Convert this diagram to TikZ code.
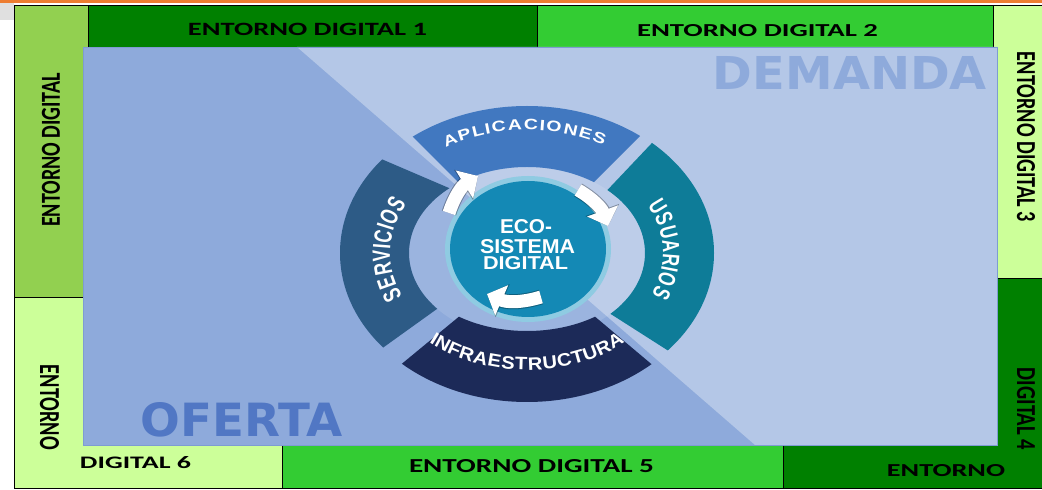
\documentclass[tikz,border=0pt]{standalone}
\usepackage{fontspec}
\usepackage{graphicx}
\usetikzlibrary{arrows.meta,calc}
\setmainfont{Liberation Sans}
\newfontfamily\cellfont{Carlito}
\newfontfamily\bigfont{DejaVu Sans}
\newfontfamily\ringfont{Liberation Sans}
\newcommand{\fb}[3]{\resizebox{#1pt}{#2pt}{#3}}
\definecolor{dgreen}{HTML}{008000}
\definecolor{bgreen}{HTML}{33CC33}
\definecolor{lgreen}{HTML}{92D050}
\definecolor{pgreen}{HTML}{CCFF99}
\definecolor{panelA}{HTML}{8EAADB}
\definecolor{panelB}{HTML}{B4C7E7}
\definecolor{panelEdge}{HTML}{7E9CD2}
\definecolor{ofertac}{HTML}{5177C4}
\definecolor{orangeline}{HTML}{ED7D31}
\definecolor{aplc}{HTML}{4178C0}
\definecolor{servc}{HTML}{2D5B86}
\definecolor{usuc}{HTML}{0E7C98}
\definecolor{infc}{HTML}{1C2A58}
\definecolor{circc}{HTML}{1489B5}
\definecolor{haloc}{HTML}{8FCBE2}
\begin{document}
\begin{tikzpicture}[x=1pt,y=1pt,
  cell/.style={draw=black,line width=0.8pt},
  lab/.style={inner sep=0pt,text=black},
  ringch/.style={inner sep=0pt,anchor=base,text=white},
  seg/.style={even odd rule},
  arr/.style={draw=white,line width=13pt,-{Triangle[length=16pt,width=32pt]}},
  arrshadow/.style={draw=black,opacity=0.3,line width=15pt,-{Triangle[length=17pt,width=35pt]}}]
\useasboundingbox (0,0) rectangle (1042,490);
\fill[white] (0,0) rectangle (1042,490);
\fill[orangeline] (0,487) rectangle (1042,490);
\fill[black!12] (0,470) rectangle (14,487);
% frame cells
\filldraw[cell,fill=lgreen] (14,193) rectangle (88,485);
\filldraw[cell,fill=dgreen] (88,443) rectangle (537,485);
\filldraw[cell,fill=bgreen] (537,443) rectangle (993,485);
\filldraw[cell,fill=pgreen] (993,212) rectangle (1046,485);
\filldraw[cell,fill=bgreen] (282,2) rectangle (783,45);
\filldraw[cell,fill=dgreen] (783,2) rectangle (1046,212);
\filldraw[cell,fill=pgreen] (14,2) rectangle (282,193);
% panel
\fill[panelA] (83,45) rectangle (997,443);
\fill[panelB] (297,443) -- (997,443) -- (997,45) -- (755,45) -- cycle;
\draw[panelEdge,line width=0.6pt] (83,45) rectangle (997,443);
% cell labels
\node[lab] (e1) at (307.5,461) {\fb{239}{12.3}{\cellfont\bfseries ENTORNO DIGITAL 1}};
\node[lab] (e2) at (757.5,459) {\fb{241}{12}{\cellfont\bfseries ENTORNO DIGITAL 2}};
\node[lab,rotate=90] (e0) at (51,340) {\fb{154}{18}{\cellfont\bfseries ENTORNO DIGITAL}};
\node[lab,rotate=-90] (e6a) at (49.5,82.5) {\fb{85}{19}{\cellfont\bfseries ENTORNO}};
\node[lab,rotate=-90] (e3) at (1026,353) {\fb{170}{18}{\cellfont\bfseries ENTORNO DIGITAL 3}};
\node[lab,rotate=-90] (e4) at (1026,81) {\fb{82}{18}{\cellfont\bfseries DIGITAL 4}};
\node[lab] (e6) at (135.5,27) {\fb{111}{12}{\cellfont\bfseries DIGITAL 6}};
\node[lab] (e5) at (531.5,23.5) {\fb{245}{13}{\cellfont\bfseries ENTORNO DIGITAL 5}};
\node[lab] (e4b) at (946,19) {\fb{118}{12}{\cellfont\bfseries ENTORNO}};
% big words
\node[inner sep=0pt,text=panelA] (dem) at (850,416.5) {\fb{274}{33}{\bigfont\bfseries DEMANDA}};
\node[inner sep=0pt,text=ofertac] (ofe) at (242,70) {\fb{202}{34}{\bigfont\bfseries OFERTA}};
% ring
\coordinate (rc) at (527,237);
\coordinate (cc) at (528,241);
\fill[white,opacity=0.12] (rc) ellipse[x radius=118pt,y radius=86pt];
\begin{scope}
\clip (526,240) -- (926,640) -- (126,640) -- cycle;
\fill[aplc,seg] (rc) ellipse[x radius=187pt,y radius=147pt] (rc) ellipse[x radius=118pt,y radius=86pt];
\end{scope}
\begin{scope}
\clip (535.5,224) -- (935,646) -- (935,-31) -- cycle;
\fill[usuc,seg] (rc) ellipse[x radius=187pt,y radius=148pt] (rc) ellipse[x radius=118pt,y radius=86pt];
\end{scope}
\begin{scope}
\clip (527.6,230) -- (1051,-210) -- (-5.5,-210) -- cycle;
\fill[infc,seg] (rc) ellipse[x radius=187pt,y radius=149pt] (rc) ellipse[x radius=118pt,y radius=78pt];
\end{scope}
\begin{scope}
\clip (547,260) -- (100,451.5) -- (100,-60.8) -- cycle;
\fill[servc,seg] (rc) ellipse[x radius=187pt,y radius=148pt] (rc) ellipse[x radius=118pt,y radius=86pt];
\end{scope}
% ring labels, letter by letter
\foreach \ch/\f [count=\i] in {A/.048,P/.140,L/.224,I/.283,C/.349,A/.445,C/.540,I/.607,O/.676,N/.776,E/.868,S/.956}{
  \pgfmathsetmacro\t{121+\f*(61-121)}
  \node[ringch,rotate={atan2(-123*cos(\t),159*sin(\t))}] (apl\i) at ($(rc)+(\t:159pt and 123pt)$)
    {\scalebox{1.3}[1]{\ringfont\bfseries\fontsize{15}{15}\selectfont \ch}};
}
\foreach \ch/\f [count=\i] in {S/.061,E/.184,R/.311,V/.439,I/.526,C/.617,I/.709,O/.806,S/.939}{
  \pgfmathsetmacro\t{205+\f*(151-205)}
  \node[ringch,rotate={atan2(-103*cos(\t),137*sin(\t))}] (ser\i) at ($(rc)+(\t:137pt and 103pt)$)
    {\scalebox{0.69}[1]{\ringfont\bfseries\fontsize{25}{25}\selectfont \ch}};
}
\foreach \ch/\f [count=\i] in {U/.068,S/.200,U/.332,A/.468,R/.605,I/.700,O/.800,S/.937}{
  \pgfmathsetmacro\t{28+\f*(-24-28)}
  \node[ringch,rotate={atan2(-102*cos(\t),136*sin(\t))}] (usu\i) at ($(rc)+(\t:136pt and 102pt)$)
    {\scalebox{0.71}[1]{\ringfont\bfseries\fontsize{24}{24}\selectfont \ch}};
}
\foreach \ch/\f [count=\i] in {I/.014,N/.064,F/.131,R/.198,A/.271,E/.341,S/.408,T/.472,R/.539,U/.612,C/.684,T/.751,U/.818,R/.891,A/.964}{
  \pgfmathsetmacro\t{230+\f*(310-230)}
  \node[ringch,rotate={atan2(117*cos(\t),-152*sin(\t))}] (inf\i) at ($(rc)+(\t:152pt and 117pt)$)
    {\scalebox{1.12}[1]{\ringfont\bfseries\fontsize{18}{18}\selectfont \ch}};
}
% centre circle
\fill[haloc] (cc) ellipse[x radius=83pt,y radius=73pt];
\fill[circc] (cc) ellipse[x radius=78pt,y radius=68pt];
\node[inner sep=0pt,text=white] (eco1) at (526,263) {\fb{52}{14}{\bfseries ECO-}};
\node[inner sep=0pt,text=white] (eco2) at (527.5,243) {\fb{95}{14}{\bfseries SISTEMA}};
\node[inner sep=0pt,text=white] (eco3) at (525.5,226.5) {\fb{85}{13}{\bfseries DIGITAL}};
% arrows
\coordinate (a1s) at (449,277); \coordinate (a1e) at (478,314);
\coordinate (a2s) at (578,300); \coordinate (a2e) at (608,264);
\coordinate (a3s) at (541,193); \coordinate (a3e) at (487,196);
\begin{scope}[shift={(3,-3)}]
\draw[arrshadow] (a1s) to[bend left=20] (a1e);
\draw[arrshadow] (a2s) to[bend left=20] (a2e);
\draw[arrshadow] (a3s) to[bend left=20] (a3e);
\end{scope}
\draw[arr] (a1s) to[bend left=20] (a1e);
\draw[arr] (a2s) to[bend left=20] (a2e);
\draw[arr] (a3s) to[bend left=20] (a3e);
\end{tikzpicture}
\end{document}
